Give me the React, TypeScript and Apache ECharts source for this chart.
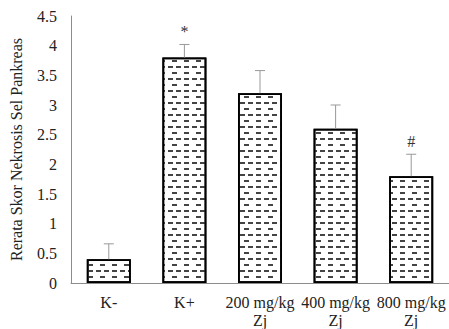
import React, { useEffect, useRef } from "react";
import * as echarts from "echarts";

const categories = ["K-", "K+", "200 mg/kg\nZj", "400 mg/kg\nZj", "800 mg/kg\nZj"];
const means = [0.4, 3.8, 3.2, 2.6, 1.8];
const errors = [0.26, 0.22, 0.38, 0.4, 0.37];
const marks = ["", "*", "", "", "#"];
const yTitle = "Rerata Skor Nekrosis Sel Pankreas";

export default function App() {
  const ref = useRef<HTMLDivElement>(null);
  useEffect(() => {
    if (!ref.current) return;
    const chart = echarts.init(ref.current, null, { renderer: "svg" });
    const font = "Times New Roman, Liberation Serif, serif";
    chart.setOption({
      animation: false,
      aria: { enabled: true, decal: { show: true } },
      textStyle: { fontFamily: font },
      grid: { left: 64, right: -3, top: 16, bottom: 46 },
      xAxis: {
        type: "category",
        data: categories,
        axisLine: { lineStyle: { color: "#8c8c8c", width: 1 } },
        axisTick: { show: false },
        axisLabel: { color: "#222", fontFamily: font, fontSize: 16, margin: 10, lineHeight: 18, interval: 0 },
      },
      yAxis: {
        type: "value",
        min: 0,
        max: 4.5,
        interval: 0.5,
        name: yTitle,
        nameLocation: "middle",
        nameGap: 47,
        nameTextStyle: { color: "#222", fontFamily: font, fontSize: 16 },
        axisLine: { show: true, lineStyle: { color: "#8c8c8c", width: 1 } },
        axisTick: { show: false },
        splitLine: { show: false },
        axisLabel: { color: "#222", fontFamily: font, fontSize: 16, margin: 14 },
      },
      series: [
        {
          type: "bar",
          data: means,
          barWidth: 44,
          itemStyle: {
            color: "#ffffff",
            borderColor: "#000",
            borderWidth: 1.8,
            decal: {
              symbol: "rect",
              symbolSize: 1,
              color: "#444",
              backgroundColor: "#ffffff",
              dashArrayX: [[5, 3], [0, 4, 5, 3]],
              dashArrayY: [1.2, 3.8],
              rotation: 0,
            },
          },
          z: 2,
        },
        {
          type: "custom",
          z: 3,
          data: means.map((m, i) => [i, m, errors[i]]),
          renderItem: (params: any, api: any) => {
            const i = api.value(0);
            const m = api.value(1);
            const e = api.value(2);
            const base = api.coord([i, m]);
            const top = api.coord([i, m + e]);
            const children: any[] = [
              { type: "line", shape: { x1: base[0], y1: base[1], x2: top[0], y2: top[1] }, style: { stroke: "#999", lineWidth: 1 } },
              { type: "line", shape: { x1: top[0] - 5, y1: top[1], x2: top[0] + 5, y2: top[1] }, style: { stroke: "#999", lineWidth: 1 } },
            ];
            const mk = marks[params.dataIndex];
            if (mk) {
              children.push({
                type: "text",
                style: { text: mk, x: top[0], y: top[1] - 5, align: "center", verticalAlign: "bottom", fill: "#333", fontFamily: font, fontSize: 16 },
              });
            }
            return { type: "group", children };
          },
        },
      ],
    });
    return () => chart.dispose();
  }, []);
  return <div ref={ref} style={{ position: "fixed", left: 0, top: 0, width: 449, height: 329, background: "#fff" }} />;
}
